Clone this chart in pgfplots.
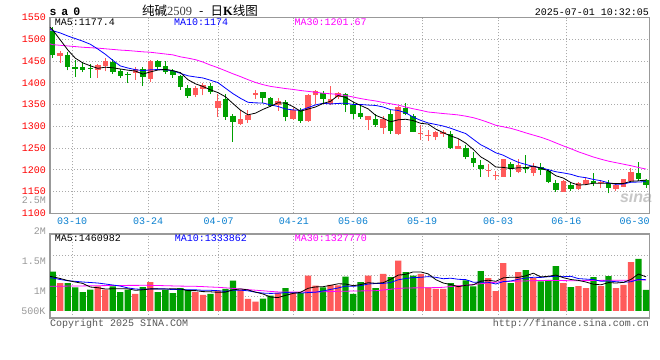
\documentclass[border=0pt]{standalone}
\usepackage{fontspec}
\setmainfont{Liberation Mono}
\newfontfamily\cjk{Noto Sans CJK SC}
\newfontfamily\serifx{Liberation Serif}
\newfontfamily\sansx{Liberation Sans}
\usepackage{pgfplots}
\pgfplotsset{compat=1.18}
\definecolor{cred}{HTML}{FF5A5A}
\definecolor{cgreen}{HTML}{00A000}
\definecolor{cgrid}{HTML}{AAAAAA}
\definecolor{cborder}{HTML}{999999}
\definecolor{cxlab}{HTML}{0A80D0}
\definecolor{cglab}{HTML}{999999}
\definecolor{cma10}{HTML}{0000FF}
\definecolor{cma30}{HTML}{FF00FF}
\definecolor{cfoot}{HTML}{555555}
\newcommand{\fs}{\fontsize{10bp}{12bp}\selectfont}
\pgfplotsset{
  sinabase/.style={
    scale only axis, width=599.3bp,
    xmin=0.64, xmax=80.44,
    axis line style={draw=cborder, line width=1.3bp},
    major tick length=0pt,
    grid=major,
    major grid style={draw=cgrid, line width=0.8bp, dash pattern=on 1bp off 2bp},
    unbounded coords=jump,
    xtick={3.6,13.7,23.1,33.1,41.0,50.2,60.3,69.4},
  }
}
\begin{document}
\begin{tikzpicture}
\fill[white] (0,0) rectangle (660bp,-360bp);
\path[use as bounding box] (0,0) rectangle (660bp,-360bp);
\node[text=black!22, font=\sansx\bfseries\itshape\fontsize{16bp}{16bp}\selectfont] at (636bp,-197bp) {sina};
% ---------------- price panel
\begin{axis}[sinabase,
  at={(50bp,-17.7bp)}, anchor=north west, height=195.6bp,
  ymin=1100, ymax=1550,
  ytick={1100,1150,1200,1250,1300,1350,1400,1450,1500,1550},
  yticklabels={1100,1150,1200,1250,1300,1350,1400,1450,1500,1550},
  yticklabel style={text=red, anchor=east, inner sep=0pt, xshift=-4bp, font=\fs},
  xticklabels={03-10,03-24,04-07,04-21,05-06,05-19,06-03,06-16},
  xticklabel style={text=cxlab, anchor=center, inner sep=0pt, yshift=-7.7bp, font=\fs},
  extra x ticks={78.5}, extra x tick labels={06-30},
  extra x tick style={grid=none},
]
% red wicks
\addplot[draw=cred, line width=1bp] coordinates {
(2,1445.5)(2,1473)(2,nan) (7,1411.8)(7,1444)(7,nan) (8,1426.4)(8,1457.7)(8,nan)
(12,1407.3)(12,1436.3)(12,nan) (14,1401.9)(14,1451.6)(14,nan) (20,1367.5)(20,1392)(20,nan)
(21,1371.3)(21,1399.6)(21,nan) (23,1322)(23,1375.1)(23,nan) (26,1303)(26,1338.5)(26,nan)
(27,1307.9)(27,1337)(27,nan) (28,1363.7)(28,1384.3)(28,nan) (31,1335.4)(31,1366)(31,nan)
(33,1315)(33,1342.3)(33,nan) (35,1310.2)(35,1375.1)(35,nan) (36,1352.2)(36,1384.3)(36,nan)
(38,1348.4)(38,1392)(38,nan) (39,1363.7)(39,1379)(39,nan) (43,1291.1)(43,1324)(43,nan)
(45,1283.4)(45,1324)(45,nan) (47,1281)(47,1346.1)(47,nan) (50,1268.2)(50,1302.6)(50,nan)
(51,1266.6)(51,1291)(51,nan) (52,1268.2)(52,1289.6)(52,nan) (53,1275.8)(53,1291)(53,nan)
(55,1247.5)(55,1272)(55,nan) (59,1184)(59,1213.1)(59,nan) (60,1176.4)(60,1197.8)(60,nan)
(61,1184)(61,1226)(61,nan) (63,1191.7)(63,1223.8)(63,nan) (65,1185.6)(65,1214.6)(65,nan)
(69,1149.6)(69,1176.4)(69,nan) (71,1153.5)(71,1172.6)(71,nan) (72,1165)(72,1180.2)(72,nan)
(74,1157.3)(74,1176.4)(74,nan) (76,1151)(76,1168.8)(76,nan) (77,1160)(77,1179)(77,nan)
(78,1172.6)(78,1204.7)(78,nan)
};
% red bodies
\addplot[draw=cred, line width=5.5bp, line cap=butt] coordinates {
(2,1461.5)(2,1469.2)(2,nan) (7,1430.2)(7,1440.1)(7,nan) (8,1438.6)(8,1449.3)(8,nan)
(12,1423.3)(12,1430.9)(12,nan) (14,1408)(14,1450)(14,nan) (20,1371.3)(20,1388.1)(20,nan)
(21,1386.6)(21,1394.2)(21,nan) (23,1342.3)(23,1357.6)(23,nan) (26,1306.3)(26,1317.8)(26,nan)
(27,1314)(27,1325.4)(27,nan) (28,1372.9)(28,1377.4)(28,nan) (31,1349.9)(31,1357.6)(31,nan)
(33,1317.8)(33,1336.9)(33,nan) (35,1311.7)(35,1371.3)(35,nan) (36,1371.3)(36,1381.3)(36,nan)
(38,1352.2)(38,1362.2)(38,nan) (39,1367.5)(39,1377.4)(39,nan) (43,1314)(43,1323.2)(43,nan)
(45,1297.2)(45,1316.3)(45,nan) (47,1283.4)(47,1344.6)(47,nan) (50,1282)(50,1285)(50,nan)
(51,1278)(51,1280)(51,nan) (52,1275.8)(52,1287.3)(52,nan) (53,1282)(53,1287.3)(53,nan)
(55,1247.5)(55,1254.4)(55,nan) (59,1198.6)(59,1200.6)(59,nan) (60,1186)(60,1188)(60,nan)
(61,1184)(61,1223.8)(61,nan) (63,1195.5)(63,1210.8)(63,nan) (65,1193.2)(65,1207)(65,nan)
(69,1149.6)(69,1174)(69,nan) (71,1155)(71,1170.3)(71,nan) (72,1166.5)(72,1176.4)(72,nan)
(74,1168.8)(74,1172.6)(74,nan) (76,1155.7)(76,1165)(76,nan) (77,1161.1)(77,1177.9)(77,nan)
(78,1174)(78,1195.5)(78,nan)
};
% green wicks
\addplot[draw=cgreen, line width=1bp] coordinates {
(1,1457.7)(1,1529.6)(1,nan) (3,1428.6)(3,1470.7)(3,nan) (4,1413.4)(4,1451.6)(4,nan)
(5,1424.8)(5,1447.8)(5,nan) (6,1411.8)(6,1444)(6,nan) (9,1421)(9,1455.4)(9,nan)
(10,1411.8)(10,1432.5)(10,nan) (11,1399.6)(11,1424.8)(11,nan) (13,1392.7)(13,1436.3)(13,nan)
(15,1432.5)(15,1451.6)(15,nan) (16,1421)(16,1450)(16,nan) (17,1411.8)(17,1432.5)(17,nan)
(18,1384.3)(18,1417.2)(18,nan) (19,1366)(19,1394.2)(19,nan) (22,1373.6)(22,1399.6)(22,nan)
(24,1315.5)(24,1375)(24,nan) (25,1264.3)(25,1328)(25,nan) (29,1353.7)(29,1379.5)(29,nan)
(30,1344.6)(30,1367.5)(30,nan) (32,1311.7)(32,1359.9)(32,nan) (34,1307.9)(34,1342.3)(34,nan)
(37,1352.2)(37,1381.3)(37,nan) (40,1333)(40,1377.4)(40,nan) (41,1317.8)(41,1356)(41,nan)
(42,1317.8)(42,1352.2)(42,nan) (44,1298.7)(44,1329.3)(44,nan) (46,1283.4)(46,1337)(46,nan)
(48,1325.5)(48,1353.8)(48,nan) (49,1287)(49,1329.3)(49,nan) (54,1249)(54,1288.8)(54,nan)
(56,1223.8)(56,1256.7)(56,nan) (57,1205.5)(57,1241.4)(57,nan) (58,1184.1)(58,1222.3)(58,nan)
(62,1184)(62,1218.4)(62,nan) (64,1191.7)(64,1233.7)(64,nan) (66,1187.9)(66,1214.6)(66,nan)
(67,1168.8)(67,1200.9)(67,nan) (68,1149.6)(68,1176.4)(68,nan) (70,1152)(70,1172.6)(70,nan)
(73,1162.6)(73,1193.2)(73,nan) (75,1145.8)(75,1176.4)(75,nan) (79,1174)(79,1218.4)(79,nan)
(80,1158.8)(80,1179)(80,nan)
};
% green bodies
\addplot[draw=cgreen, line width=5.5bp, line cap=butt] coordinates {
(1,1520.4)(1,1464.6)(1,nan) (3,1464.6)(3,1436.3)(3,nan) (4,1436.3)(4,1431.7)(4,nan)
(5,1436.3)(5,1428.6)(5,nan) (6,1434)(6,1431)(6,nan) (9,1447.8)(9,1424.8)(9,nan)
(10,1427.1)(10,1414.9)(10,nan) (11,1421)(11,1417.2)(11,nan) (13,1430.9)(13,1413.4)(13,nan)
(15,1449.3)(15,1436.3)(15,nan) (16,1437.8)(16,1424.8)(16,nan) (17,1426.4)(17,1417.2)(17,nan)
(18,1414.9)(18,1390.4)(18,nan) (19,1388.9)(19,1369)(19,nan) (22,1393.5)(22,1379)(22,nan)
(24,1362)(24,1321.6)(24,nan) (25,1325)(25,1310.1)(25,nan) (29,1378.2)(29,1365.2)(29,nan)
(30,1365.2)(30,1346.1)(30,nan) (32,1356)(32,1321.6)(32,nan) (34,1336.9)(34,1311.7)(34,nan)
(37,1377.4)(37,1362.2)(37,nan) (40,1375.1)(40,1349.9)(40,nan) (41,1348.4)(41,1329.3)(41,nan)
(42,1330.8)(42,1321.7)(42,nan) (44,1316.3)(44,1302.6)(44,nan) (46,1327.8)(46,1288.8)(46,nan)
(48,1343)(48,1329.3)(48,nan) (49,1323.2)(49,1287.3)(49,nan) (54,1281.9)(54,1250.6)(54,nan)
(56,1251.3)(56,1228.4)(56,nan) (57,1227.6)(57,1214.6)(57,nan) (58,1210.8)(58,1200.9)(58,nan)
(62,1213)(62,1201)(62,nan) (64,1207)(64,1201)(64,nan) (66,1205.4)(66,1199.3)(66,nan)
(67,1197.8)(67,1171)(67,nan) (68,1168.7)(68,1153.5)(68,nan) (70,1165)(70,1155.7)(70,nan)
(73,1174)(73,1170.3)(73,nan) (75,1168.8)(75,1157.3)(75,nan) (79,1191.7)(79,1177.9)(79,nan)
(80,1177)(80,1166)(80,nan)
};
% MA30
\addplot[draw=cma30, line width=0.8bp] coordinates {
(0.64,1490)(1,1488)(2,1486.5)(3,1485)(4,1483.5)(5,1482)(6,1481)(7,1480)(8,1478.5)(9,1477)(10,1475.5)
(11,1474.5)(12,1473)(13,1471.5)(14,1470.5)(15,1468.5)(16,1466.5)(17,1464.5)(18,1460)(19,1457)(20,1453.5)
(21,1448)(22,1441)(23,1435)(24,1428)(25,1421)(26,1414.5)(27,1407.5)(28,1401)(29,1396)(30,1392)
(31,1389.5)(32,1387)(33,1385)(34,1382.5)(35,1380.5)(36,1378.5)(37,1376.2)(38,1375)(39,1373.5)(40,1371)
(41,1367.5)(42,1364)(43,1361)(44,1358.5)(45,1355)(46,1352)(47,1349)(48,1344.5)(49,1340.5)(50,1337)
(51,1333)(52,1331.3)(53,1329.5)(54,1328)(55,1326.3)(56,1323.5)(57,1320)(58,1315)(59,1309)(60,1302.5)
(61,1299)(62,1295.5)(63,1290.5)(64,1285)(65,1280)(66,1275)(67,1269)(68,1262)(69,1255)(70,1248.5)
(71,1241.5)(72,1235.5)(73,1229.5)(74,1224.5)(75,1220)(76,1216.5)(77,1213)(78,1209.5)(79,1205.5)(80,1201.7)
};
% MA10
\addplot[draw=cma10, line width=0.8bp] coordinates {
(0.64,1524)(1,1520)(2,1515)(3,1508)(4,1502)(5,1496)(6,1489)(7,1478)(8,1466)(9,1452)(10,1439.1)
(11,1434.3)(12,1430.5)(13,1428.2)(14,1430.0)(15,1430.8)(16,1430.2)(17,1427.9)(18,1422.0)(19,1416.4)(20,1413.7)
(21,1411.4)(22,1406.2)(23,1400.7)(24,1387.9)(25,1375.3)(26,1364.6)(27,1355.4)(28,1354.1)(29,1353.7)(30,1349.5)
(31,1345.8)(32,1340.1)(33,1337.9)(34,1336.9)(35,1343.1)(36,1349.4)(37,1353.1)(38,1351.6)(39,1352.8)(40,1353.2)
(41,1350.4)(42,1350.4)(43,1349.0)(44,1348.1)(45,1344.6)(46,1338.4)(47,1336.6)(48,1331.3)(49,1321.3)(50,1313.8)
(51,1307.9)(52,1304.4)(53,1300.8)(54,1295.6)(55,1289.4)(56,1283.4)(57,1270.4)(58,1257.6)(59,1248.9)(60,1239.2)
(61,1233.6)(62,1224.9)(63,1217.3)(64,1212.4)(65,1207.6)(66,1204.7)(67,1200.3)(68,1195.6)(69,1192.9)(70,1189.7)
(71,1184.4)(72,1181.9)(73,1177.9)(74,1175.0)(75,1170.0)(76,1166.6)(77,1167.3)(78,1171.5)(79,1171.9)(80,1172.9)
};
% MA5
\addplot[draw=black, line width=0.8bp] coordinates {
(0.64,1528)(1,1522)(2,1499)(3,1476)(4,1457)(5,1446.1)(6,1439.4)(7,1433.5)(8,1436.1)(9,1434.8)(10,1432.0)
(11,1429.3)(12,1427.4)(13,1420.2)(14,1425.3)(15,1429.6)(16,1431.1)(17,1428.3)(18,1423.7)(19,1407.5)(20,1397.9)
(21,1391.8)(22,1384.1)(23,1377.7)(24,1368.2)(25,1352.6)(26,1337.4)(27,1326.6)(28,1330.4)(29,1339.1)(30,1346.3)
(31,1354.3)(32,1353.5)(33,1345.5)(34,1334.8)(35,1339.8)(36,1344.6)(37,1352.7)(38,1357.7)(39,1370.9)(40,1366.6)
(41,1356.2)(42,1348.1)(43,1340.3)(44,1325.4)(45,1318.6)(46,1310.5)(47,1315.1)(48,1316.3)(49,1313.3)(50,1307.0)
(51,1305.2)(52,1293.8)(53,1285.3)(54,1278.0)(55,1271.9)(56,1261.5)(57,1247.0)(58,1229.8)(59,1219.8)(60,1206.5)
(61,1205.6)(62,1202.9)(63,1204.8)(64,1204.9)(65,1208.7)(66,1203.8)(67,1197.8)(68,1186.4)(69,1181.0)(70,1170.7)
(71,1164.9)(72,1166.0)(73,1169.3)(74,1169.1)(75,1169.4)(76,1168.3)(77,1168.6)(78,1173.7)(79,1174.7)(80,1176.5)
};
\end{axis}
% ---------------- volume panel (thousands of lots)
\begin{axis}[sinabase,
  at={(50bp,-234bp)}, anchor=north west, height=84bp,
  ymin=-300, ymax=3296,
  ytick={629,1511,2384}, yticklabels={},
  xticklabels={},
]
\addplot[ybar, bar width=6.3bp, bar shift=0pt, fill=cred, draw=none] coordinates {
(2,1198)(7,1057)(8,912)(12,728)(14,1241)(20,813)(21,685)(23,869)(26,899)(27,514)(28,398)
(31,783)(33,813)(35,1511)(36,1083)(38,1113)(39,1100)(43,1511)(45,1584)(47,2153)(50,1584)
(51,1014)(52,942)(53,942)(55,1100)(59,1412)(60,856)(61,2054)(63,1669)(65,1412)(69,1198)
(71,1070)(72,984)(74,1070)(76,984)(77,1113)(78,2097)
};
\addplot[ybar, bar width=6.3bp, bar shift=0pt, fill=cgreen, draw=none] coordinates {
(1,1682)(3,1198)(4,1014)(5,813)(6,912)(9,1057)(10,813)(11,912)(13,1027)(15,813)(16,899)
(17,770)(18,984)(19,899)(22,728)(24,942)(25,1297)(29,526)(30,655)(32,984)(34,770)(37,1014)
(40,1468)(41,728)(42,1241)(44,984)(46,1455)(48,1669)(49,1511)(54,1198)(56,1314)(57,1057)
(58,1712)(62,1198)(64,1755)(66,1271)(67,1327)(68,1926)(70,1027)(73,1455)(75,1498)(79,2226)(80,899)
};
% volume MA30
\addplot[draw=cma30, line width=0.8bp] coordinates {
(0.64,1057)(1,1057)(2,1061)(3,1066)(4,1070)(5,1074)(6,1079)(7,1083)(8,1087)(9,1091)(10,1091)
(11,1096)(12,1096)(13,1100)(14,1096)(15,1091)(16,1083)(17,1074)(18,1066)(19,1061)(20,1057)
(21,1044)(22,1027)(23,1014)(24,993)(25,967)(26,942)(27,916)(28,890)(29,865)(30,839)
(31,817)(32,813)(33,813)(34,813)(35,813)(36,813)(37,822)(38,835)(39,843)(40,847)
(41,856)(42,860)(43,865)(44,869)(45,899)(46,933)(47,963)(48,984)(49,989)(50,993)
(51,997)(52,1002)(53,1014)(54,1049)(55,1079)(56,1100)(57,1134)(58,1168)(59,1198)(60,1233)
(61,1263)(62,1271)(63,1280)(64,1288)(65,1297)(66,1305)(67,1310)(68,1305)(69,1301)(70,1297)
(71,1297)(72,1301)(73,1305)(74,1310)(75,1314)(76,1314)(77,1318)(78,1318)(79,1323)(80,1328)
};
% volume MA10
\addplot[draw=cma10, line width=0.8bp] coordinates {
(0.64,1425)(1,1412)(2,1348)(3,1297)(4,1271)(5,1241)(6,1220)(7,1198)(8,1156)(9,1113)(10,1066)
(11,989)(12,942)(13,924)(14,946)(15,946)(16,946)(17,916)(18,924)(19,907)(20,907)
(21,886)(22,886)(23,869)(24,839)(25,890)(26,890)(27,865)(28,805)(29,766)(30,753)
(31,762)(32,788)(33,783)(34,766)(35,788)(36,805)(37,856)(38,924)(39,984)(40,1066)
(41,1057)(42,1083)(43,1156)(44,1177)(45,1181)(46,1220)(47,1335)(48,1391)(49,1430)(50,1442)
(51,1472)(52,1442)(53,1382)(54,1404)(55,1357)(56,1344)(57,1233)(58,1237)(59,1228)(60,1156)
(61,1258)(62,1284)(63,1357)(64,1412)(65,1442)(66,1438)(67,1468)(68,1489)(69,1468)(70,1485)
(71,1387)(72,1365)(73,1344)(74,1275)(75,1284)(76,1254)(77,1233)(78,1250)(79,1352)(80,1340)
};
% volume MA5
\addplot[draw=black, line width=0.8bp] coordinates {
(0.64,1485)(1,1464)(2,1391)(3,1305)(4,1241)(5,1181)(6,1027)(7,997)(8,942)(9,950)(10,950)
(11,950)(12,886)(13,907)(14,946)(15,946)(16,942)(17,950)(18,942)(19,873)(20,873)
(21,830)(22,822)(23,800)(24,809)(25,903)(26,946)(27,903)(28,809)(29,728)(30,599)
(31,574)(32,668)(33,753)(34,800)(35,972)(36,1031)(37,1040)(38,1100)(39,1164)(40,1156)
(41,1083)(42,1130)(43,1211)(44,1186)(45,1211)(46,1357)(47,1537)(48,1571)(49,1673)(50,1673)
(51,1588)(52,1344)(53,1198)(54,1134)(55,1040)(56,1100)(57,1121)(58,1275)(59,1318)(60,1271)
(61,1417)(62,1447)(63,1438)(64,1507)(65,1618)(66,1459)(67,1485)(68,1537)(69,1425)(70,1348)
(71,1310)(72,1241)(73,1147)(74,1121)(75,1216)(76,1198)(77,1224)(78,1352)(79,1584)(80,1464)
};
\end{axis}
% ---------------- texts
\node[anchor=west, inner sep=0pt, font=\bfseries\fontsize{11.5bp}{13bp}\selectfont] at (49.3bp,-12bp) {s\hspace{5bp}a\hspace{5bp}0};
\node[anchor=center, inner sep=0pt] at (200bp,-10.5bp) {\fontsize{12.5bp}{14bp}\selectfont{\cjk 纯碱}{\serifx\color{black!75}2509}\hspace{7bp}{\cjk -}\hspace{7bp}{\cjk 日}{\serifx\bfseries K}{\cjk 线图}};
\node[anchor=east, inner sep=0pt, font=\fs] at (649bp,-12bp) {2025-07-01 10:32:05};
\node[anchor=west, inner sep=0pt, font=\fs, text=black] at (54.7bp,-22.5bp) {MA5:1177.4};
\node[anchor=west, inner sep=0pt, font=\fs, text=cma10] at (174bp,-22.5bp) {MA10:1174};
\node[anchor=west, inner sep=0pt, font=\fs, text=cma30] at (294.3bp,-22.5bp) {MA30:1201.67};
\node[anchor=west, inner sep=0pt, font=\fs, text=black] at (54.7bp,-238.5bp) {MA5:1460982};
\node[anchor=west, inner sep=0pt, font=\fs, text=cma10] at (174.7bp,-238.5bp) {MA10:1333862};
\node[anchor=west, inner sep=0pt, font=\fs, text=cma30] at (294.7bp,-238.5bp) {MA30:1327770};
\node[anchor=east, inner sep=0pt, font=\fs, text=cglab] at (46bp,-200bp) {2.5M};
\node[anchor=east, inner sep=0pt, font=\fs, text=cglab] at (46bp,-231bp) {2M};
\node[anchor=east, inner sep=0pt, font=\fs, text=cglab] at (46bp,-261bp) {1.5M};
\node[anchor=east, inner sep=0pt, font=\fs, text=cglab] at (46bp,-291bp) {1M};
\node[anchor=east, inner sep=0pt, font=\fs, text=cglab] at (45.5bp,-311bp) {500K};
\node[anchor=west, inner sep=0pt, font=\fs, text=cfoot] at (50bp,-323.5bp) {Copyright 2025 SINA.COM};
\node[anchor=east, inner sep=0pt, font=\fs, text=cfoot] at (649bp,-323.5bp) {http://finance.sina.com.cn};
\end{tikzpicture}
\end{document}
